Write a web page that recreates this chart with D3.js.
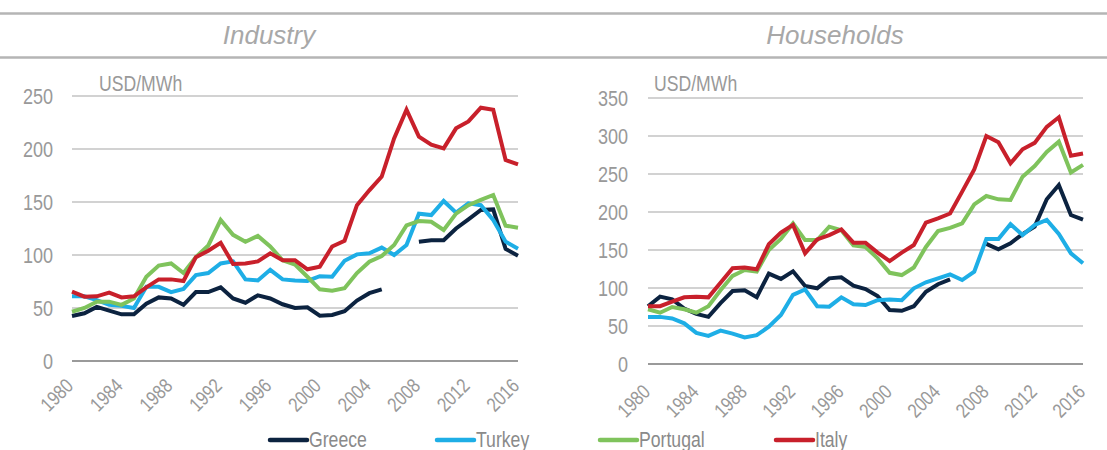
<!DOCTYPE html>
<html><head><meta charset="utf-8">
<script src="https://cdn.jsdelivr.net/npm/d3@7"></script>
<style>
html,body{margin:0;padding:0;background:#fff;}
svg text{font-family:"Liberation Sans",Arial,sans-serif;fill:#999;}
</style></head>
<body><svg id="c" width="1107" height="450"></svg>
<script>
const years = [1980,1981,1982,1983,1984,1985,1986,1987,1988,1989,1990,1991,1992,1993,1994,1995,1996,1997,1998,1999,2000,2001,2002,2003,2004,2005,2006,2007,2008,2009,2010,2011,2012,2013,2014,2015,2016];
const xTickYears = [1980,1984,1988,1992,1996,2000,2004,2008,2012,2016];
const countries = ["Greece","Turkey","Portugal","Italy"];
const colors = ["#0c2340","#1eaee6","#7fc35c","#c8202b"];

const industryGreece = [42.5,45,51,47.5,44,44,54,60,59,53, 65,65,69.5,59,55,62,59,53.5,50,50.6, 42.8,43.4,47,57,64,67.6,null,null,112.6,114, 114,125,133.6,142.5,143,105.7,99.4];
const industryTurkey = [61,61,57.5,53,52,50,70,70,65,68, 81,83,92,94,77,76,86,77,76,75.5, 80,79.5,94.6,100.6,101.6,107,100,109.4,139,137.7, 151,140,148.7,147,133,112.6,106];
const industryPortugal = [46.5,50,56,56,53,59,79.5,90,92,83, 98,109,133,119,112.5,118,108,95,91,79.5, 67.6,66.4,68.6,83,93.7,99,109.4,128,132,131.4, 123.6,139,147,152,156.6,127.7,125.8];
const industryItaly = [65.4,60.7,61,64.5,60,61,69.5,77,77,75.5, 98,104,111.6,91.5,92,94,101.6,95,95,86.5, 89,108,113.5,147,161,174,210,237,211.6,204, 200.6,219.5,226,239,237,189.6,185.5];

const householdsGreece = [76,88.6,85,73,66,62,80,96,97,88, 119,112,122,102.6,99.6,112.7,114,103,98.7,89.5, 71,70,76,95,105,111.4,null,null,158,151, 158.8,171,180.7,216.7,235.5,196,190];
const householdsTurkey = [62,62,60,53.5,41,37,44,40,35,38, 49,64.5,91,98,76,75.4,87.7,78.5,77.6,84, 85,84,99.6,107.5,112.7,118,110.5,121.5,164.5,164.5, 184,169.7,183,189.5,171,145.6,132.5];
const householdsPortugal = [72,67.5,75,72,67.5,76,97,116,123.7,121.5, 150,164.5,185,163,163,180.7,176,156,154,139, 120,117,127,154,175,179,185,210,221,216.7, 215.8,246.5,260.5,279,292.5,252,262];
const householdsItaly = [76,76,82,87.7,88.6,87.7,107,126,127,124.6, 157.5,172.8,183,145.6,164,169.7,177,159.6,159.6,146.5, 135.5,146.5,156.6,186,191.7,198,226.8,256,300,291.7, 264,282.5,291,312,324.6,274,277];

const industryTicks = [0,50,100,150,200,250];
const householdsTicks = [0,50,100,150,200,250,300,350];

const SX = 0.82; // narrow text look
const svg = d3.select("#c");

// header rules
svg.append("line").attr("x1",0).attr("x2",1107).attr("y1",13.5).attr("y2",13.5).attr("stroke","#b5b5b5").attr("stroke-width",2.5);
svg.append("line").attr("x1",0).attr("x2",1107).attr("y1",57.5).attr("y2",57.5).attr("stroke","#b5b5b5").attr("stroke-width",2.5);

function narrowText(parent,x,y,txt,size,fill,anchor){
  return parent.append("text").attr("transform",`translate(${x},${y}) scale(${SX},1)`)
    .attr("text-anchor",anchor||"start").style("font-size",size+"px").style("fill",fill).text(txt);
}

function panel(opt){
  const g = svg.append("g");
  const x = d3.scaleLinear().domain([1980,2016]).range([opt.x0,opt.x1]);
  const y = d3.scaleLinear().domain([0,opt.ymax]).range([opt.y0,opt.y1]);

  g.append("text").attr("x",opt.titleX).attr("y",44).attr("text-anchor","middle")
    .style("font-style","italic").style("font-size","26px").style("fill","#a8a8a8").text(opt.title);

  // gridlines
  g.selectAll(".grid").data(opt.ticks).join("line")
    .attr("x1",opt.x0).attr("x2",opt.x1)
    .attr("y1",d=>y(d)).attr("y2",d=>y(d))
    .attr("stroke",d=>d===0?"#9a9a9a":"#d2d2d2").attr("stroke-width",2);

  // y axis labels
  const ya = g.append("g").attr("transform",`translate(${opt.x0},0)`)
    .call(d3.axisLeft(y).tickValues(opt.ticks).tickSize(0));
  ya.select(".domain").remove();
  ya.selectAll("text").attr("x",null).attr("dy","0.36em")
    .attr("transform",`translate(${opt.yLabelRight-opt.x0},0) scale(${SX},1)`)
    .style("font-size","22px").style("fill","#999");

  // x axis labels
  const xa = g.append("g").attr("transform",`translate(0,${opt.y0})`)
    .call(d3.axisBottom(x).tickValues(xTickYears).tickSize(0).tickFormat(d3.format("d")));
  xa.select(".domain").remove();
  xa.selectAll("text").attr("text-anchor","end").attr("dy",null).attr("y",null)
    .attr("transform",`translate(${opt.lx},${opt.ly}) rotate(-45) scale(${SX},1)`)
    .style("font-size","20px").style("fill","#999");

  narrowText(g,opt.unitX,91,"USD/MWh",21.5,"#999");

  const line = d3.line().defined(d=>d[1]!==null).x(d=>x(d[0])).y(d=>y(d[1]));
  opt.series.forEach((s,i)=>{
    g.append("path").datum(years.map((yr,j)=>[yr,s[j]]))
      .attr("d",line).attr("fill","none").attr("stroke",colors[i])
      .attr("stroke-width",4).attr("stroke-linejoin","miter");
  });
}

panel({title:"Industry",titleX:269,x0:72,x1:518,y0:361,y1:96,ymax:250,ticks:industryTicks,
  yLabelRight:53,unitX:99,lx:2,ly:26,
  series:[industryGreece,industryTurkey,industryPortugal,industryItaly]});
panel({title:"Households",titleX:835,x0:648,x1:1083,y0:364,y1:98,ymax:350,ticks:householdsTicks,
  yLabelRight:628,unitX:654,lx:3,ly:29,
  series:[householdsGreece,householdsTurkey,householdsPortugal,householdsItaly]});

// legend
const legX = [270,437,600,776];
const lg = svg.append("g");
countries.forEach((c,i)=>{
  lg.append("line").attr("x1",legX[i]).attr("x2",legX[i]+37).attr("y1",440).attr("y2",440)
    .attr("stroke",colors[i]).attr("stroke-width",4.5).attr("stroke-linecap","round");
  narrowText(lg,legX[i]+39,447,c,21.5,"#8a8a8a");
});
</script></body></html>
